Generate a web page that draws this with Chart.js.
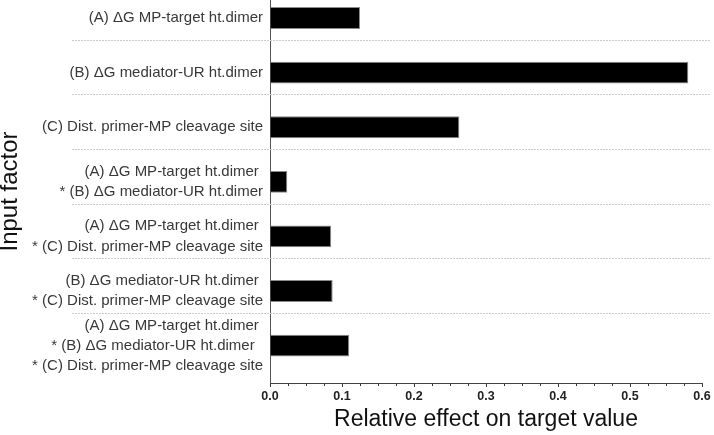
<!DOCTYPE html>
<html>
  <head>
    <title>Relative effect on target value</title>
    <script src="https://cdn.jsdelivr.net/npm/chart.js@4.4.0/dist/chart.umd.min.js"></script>
    <style>
      html,
      body {
        margin: 0;
        padding: 0;
        background: #fff;
      }
    </style>
  </head>
  <body>
    <canvas id="myChart" width="714" height="435"></canvas>
    <script>
      // input factors, top to bottom (trailing spaces kept as in the figure)
      const factorLabels = [
        ["(A) \u0394G MP-target ht.dimer"],
        ["(B) \u0394G mediator-UR ht.dimer"],
        ["(C) Dist. primer-MP cleavage site"],
        ["(A) \u0394G MP-target ht.dimer ", "* (B) \u0394G mediator-UR ht.dimer"],
        ["(A) \u0394G MP-target ht.dimer ", "* (C) Dist. primer-MP cleavage site"],
        ["(B) \u0394G mediator-UR ht.dimer ", "* (C) Dist. primer-MP cleavage site"],
        [
          "(A) \u0394G MP-target ht.dimer ",
          "* (B) \u0394G mediator-UR ht.dimer  ",
          "* (C) Dist. primer-MP cleavage site",
        ],
      ];
      const relativeEffect = [0.125, 0.581, 0.263, 0.024, 0.085, 0.087, 0.11];
      const xTickLabels = ["0.0", "0.1", "0.2", "0.3", "0.4", "0.5", "0.6"];

      const FONT = "'Liberation Sans', Arial, sans-serif";

      // dashed separators between the factor rows, running under the labels too
      const separators = {
        id: "separators",
        beforeDatasetsDraw(chart) {
          const y = chart.scales.y;
          const ctx = chart.ctx;
          ctx.save();
          ctx.strokeStyle = "#cccccc";
          ctx.lineWidth = 1;
          ctx.setLineDash([2, 1]);
          for (let i = 0; i < factorLabels.length - 1; i++) {
            const py = Math.round(y.getPixelForValue(i + 0.4)) + 0.5;
            ctx.beginPath();
            ctx.moveTo(72, py);
            ctx.lineTo(chart.width - 4, py);
            ctx.stroke();
          }
          ctx.restore();
        },
      };

      const chart = new Chart(document.getElementById("myChart"), {
        type: "bar",
        data: {
          datasets: [
            {
              data: relativeEffect.map((v, i) => ({ x: v, y: i })),
              backgroundColor: "#000",
              borderColor: "#8a8a8a",
              borderWidth: 1,
              borderSkipped: "start",
              categoryPercentage: 0.8,
              barPercentage: 0.5,
            },
          ],
        },
        options: {
          indexAxis: "y",
          responsive: false,
          animation: false,
          layout: { padding: { top: 0, left: 0, bottom: 0, right: 12 } },
          plugins: {
            legend: { display: false },
            tooltip: { enabled: false },
          },
          scales: {
            y: {
              type: "linear",
              offset: false,
              reverse: true,
              min: -0.33,
              max: 6.685,
              afterBuildTicks: (s) => {
                s.ticks = factorLabels.map((_, i) => ({ value: i }));
              },
              afterFit: (s) => {
                s.width = 270;
                s.paddingTop = 0;
                s.paddingBottom = 0;
              },
              grid: { display: false, drawTicks: false, tickLength: 0 },
              border: { display: true, color: "#555", width: 1 },
              ticks: {
                autoSkip: false,
                padding: 7,
                color: "#383838",
                font: { family: FONT, size: 15, lineHeight: 1.34 },
                callback: (v) => factorLabels[v] || "",
              },
              title: {
                display: true,
                text: "Input factor",
                color: "#111",
                padding: { top: 0, bottom: 0 },
                font: { family: FONT, size: 24, lineHeight: "21px" },
              },
            },
            x: {
              type: "linear",
              min: 0,
              max: 0.6,
              afterFit: (s) => {
                s.height = 52;
                s.paddingLeft = 0;
                s.paddingRight = 0;
              },
              grid: {
                drawOnChartArea: false,
                drawTicks: true,
                tickLength: 4,
                tickColor: "#333",
                tickWidth: 1,
                tickBorderDash: (c) =>
                  c.tick && Math.round(c.tick.value * 40) % 4 !== 0 ? [2, 10] : [],
              },
              border: { display: true, color: "#444", width: 1 },
              ticks: {
                stepSize: 0.025,
                maxTicksLimit: 30,
                autoSkip: false,
                maxRotation: 0,
                padding: 2,
                color: "#222",
                font: { family: FONT, size: 12.5, weight: "bold" },
                callback: (v) => {
                  const t = Math.round(v * 40);
                  return t % 4 === 0 ? xTickLabels[t / 4] : "";
                },
              },
              title: {
                display: true,
                text: "Relative effect on target value",
                color: "#111",
                padding: { top: 0, bottom: 2 },
                font: { family: FONT, size: 23, lineHeight: 1.2 },
              },
            },
          },
        },
        plugins: [separators],
      });
    </script>
  </body>
</html>
